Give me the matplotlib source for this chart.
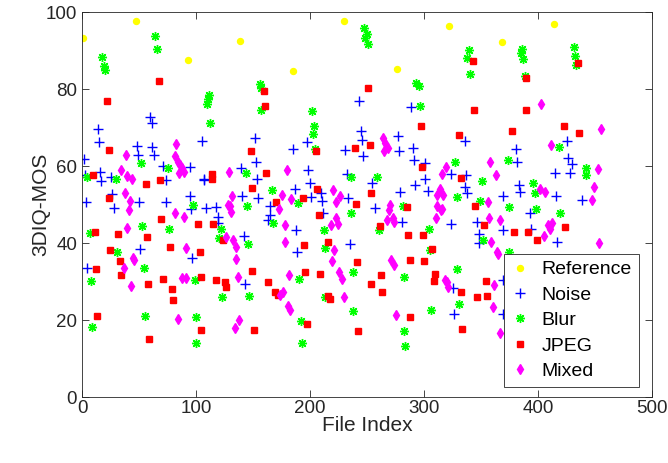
import numpy as np
import matplotlib.pyplot as plt

plt.rcParams['font.family'] = ['Liberation Sans', 'DejaVu Sans']

# reference images: one every 46 files
ref_x = [1, 47, 93, 139, 185, 230, 276, 322, 368, 414]
ref_y = [93.2, 97.8, 87.5, 92.4, 84.6, 97.7, 85.3, 96.4, 92.2, 96.8]

noise = [
    (59.3, 72.7), (61.1, 71.2), (14.1, 69.7), (14.7, 66.2), (48.5, 65.2), (61.7, 65.0),
    (49.3, 62.8), (63.1, 62.9), (1.5, 61.8), (71.4, 60.1), (16.2, 58.6), (2.9, 57.6),
    (25.3, 57.2), (17.0, 56.2), (73.4, 56.3), (26.4, 52.7), (3.2, 50.6), (49.9, 50.8),
    (73.4, 50.6), (28.2, 49.1), (51.1, 38.4), (4.7, 33.6),
    (105.4, 66.4), (151.8, 67.3), (94.3, 59.9), (139.5, 59.5), (152.4, 61.0), (106.6, 56.6),
    (107.2, 56.4), (153.3, 56.6), (94.7, 52.3), (140.7, 52.3), (154.8, 51.8),
    (95.8, 48.8), (109.0, 49.1), (117.8, 49.3), (164.5, 49.7), (165.1, 47.4), (163.4, 46.1),
    (119.6, 46.9), (119.2, 45.2), (142.1, 41.8), (96.7, 36.1), (142.7, 29.4),
    (243.2, 77.0), (244.7, 69.2), (245.5, 66.8), (197.4, 66.2), (185.3, 64.4), (231.1, 64.2),
    (246.1, 62.5), (198.5, 59.0), (232.6, 58.0), (254.6, 55.6), (199.7, 55.6), (186.8, 54.0),
    (200.6, 52.0), (209.7, 53.0), (210.8, 51.0), (233.5, 51.8),
    (211.5, 47.9), (187.7, 43.3), (235.0, 39.7), (188.3, 37.8),
    (288.7, 75.3), (335.7, 66.6), (277.5, 67.7), (278.4, 63.8), (290.1, 64.7), (291.0, 61.6),
    (301.3, 60.8), (323.3, 57.9), (337.2, 57.6), (301.3, 56.7), (292.5, 55.1), (303.4, 53.6),
    (278.7, 53.4), (336.0, 54.7), (338.1, 53.0),
    (257.3, 49.1), (280.8, 45.4), (324.0, 45.0), (325.7, 28.3), (326.3, 21.6),
    (380.9, 64.4), (381.8, 61.0), (425.5, 66.5), (414.7, 58.2), (426.5, 62.1), (383.0, 55.1),
    (383.9, 53.2), (369.2, 52.3), (416.1, 52.3),
    (393.0, 47.8), (346.5, 45.6), (369.2, 43.3), (394.1, 43.6), (348.0, 42.3), (348.6, 40.0),
    (417.0, 40.2), (369.2, 30.5), (369.2, 21.6),
    (430.0, 60.5), (428.5, 58.3), (438.6, 51.1),
]

blur = [
    (64.0, 93.7), (65.8, 90.4), (17.9, 88.2), (20.0, 85.0), (19.5, 86.0), (51.7, 60.9),
    (75.2, 59.5), (4.7, 57.3), (29.4, 56.7),
    (52.3, 44.5), (76.7, 43.7), (6.8, 42.6), (31.1, 37.7), (54.0, 33.6), (8.2, 30.2),
    (54.9, 21.2), (9.1, 18.3),
    (156.3, 81.2), (157.4, 80.2), (111.3, 78.5), (110.4, 77.4), (109.8, 76.1), (157.4, 74.6),
    (112.5, 71.3), (144.2, 58.2), (166.5, 53.8),
    (97.2, 49.8), (144.5, 49.7), (167.9, 45.2), (121.9, 43.7), (120.2, 41.3), (145.4, 39.8),
    (98.9, 30.5), (122.7, 26.1), (146.9, 26.4), (99.8, 20.9), (100.4, 14.2),
    (247.6, 95.8), (249.6, 94.3), (248.2, 93.2), (250.5, 91.7), (201.5, 74.2), (203.5, 70.5),
    (202.6, 68.4), (204.7, 64.4), (235.9, 57.3), (189.4, 50.4),
    (236.1, 47.8), (212.3, 43.3), (212.9, 38.7), (237.6, 32.4), (190.3, 30.6), (213.5, 26.1),
    (237.9, 22.5), (191.8, 19.8), (193.0, 14.0),
    (339.5, 90.2), (338.1, 88.1), (340.0, 83.9), (293.4, 81.7), (295.4, 80.7), (296.3, 75.6),
    (326.9, 61.0), (258.8, 57.3), (328.6, 52.1),
    (281.3, 49.7), (260.2, 43.5), (304.2, 43.7), (305.1, 38.1), (328.6, 33.2), (282.2, 31.1),
    (330.4, 24.2), (306.3, 22.7), (282.8, 17.2), (283.7, 13.3),
    (385.9, 90.5), (384.7, 89.4), (387.1, 87.9), (388.3, 83.3), (418.8, 64.9), (373.6, 61.6),
    (350.9, 56.2), (395.9, 55.6), (397.1, 53.0), (349.5, 51.0),
    (374.2, 49.4), (398.5, 48.8), (419.6, 47.8), (351.5, 40.9), (374.4, 37.8),
    (431.5, 90.8), (432.3, 88.5), (433.5, 86.3), (441.7, 59.5), (442.3, 57.7),
]

jpeg = [
    (67.5, 82.0), (22.0, 77.0), (23.8, 64.1), (9.4, 57.6), (68.4, 56.3), (56.1, 55.4),
    (23.8, 51.8),
    (69.6, 46.4), (11.2, 43.0), (31.7, 42.4), (57.3, 41.7), (77.5, 38.9), (24.4, 38.1),
    (33.5, 35.5), (12.3, 33.4), (34.4, 31.8), (71.4, 30.7), (58.1, 29.5), (79.3, 28.2),
    (80.2, 25.3), (13.2, 21.1), (59.0, 15.2),
    (159.5, 79.4), (160.4, 75.7), (148.0, 63.8), (161.8, 58.3), (114.3, 57.9), (114.3, 56.6),
    (148.9, 54.4),
    (101.9, 45.0), (115.2, 45.0), (124.0, 40.7), (103.1, 37.6), (149.5, 32.9), (104.0, 31.1),
    (117.2, 30.5), (125.1, 30.0), (126.0, 28.5), (163.0, 29.8), (169.4, 27.4), (104.8, 17.5),
    (150.7, 17.5),
    (251.1, 80.2), (252.6, 65.4), (239.6, 64.8), (205.3, 63.8), (205.9, 54.1), (193.8, 51.6),
    (253.1, 52.9), (169.8, 50.8), (240.3, 50.2),
    (207.9, 47.2), (194.7, 39.4), (215.9, 40.4), (241.4, 35.0), (195.6, 32.6), (208.8, 32.1),
    (253.5, 29.5), (171.7, 26.6), (215.9, 26.3), (217.9, 25.6), (197.1, 18.9), (242.3, 17.3),
    (297.5, 70.3), (331.0, 68.2), (298.4, 59.9), (332.2, 56.9),
    (285.2, 49.5), (261.7, 44.5), (286.3, 42.0), (299.3, 42.0), (306.6, 38.5), (288.1, 35.7),
    (300.4, 35.4), (309.3, 32.0), (262.6, 31.8), (308.4, 30.2), (263.4, 27.4), (332.8, 27.2),
    (288.1, 20.9), (333.6, 17.8),
    (343.3, 87.2), (389.4, 83.0), (344.2, 74.6), (389.4, 74.6), (422.6, 70.5), (376.8, 69.2),
    (345.1, 49.7), (353.0, 44.8), (423.5, 44.3), (378.9, 42.8), (391.2, 43.0), (399.1, 40.7),
    (354.5, 30.3), (346.3, 25.9), (355.1, 26.4),
    (435.0, 86.9), (435.9, 68.7),
]

mixed = [
    (82.2, 65.7), (38.5, 62.9), (81.3, 62.5), (84.0, 61.2), (34.6, 59.0), (39.2, 57.4),
    (44.1, 56.7), (38.1, 53.0), (42.0, 51.0),
    (41.1, 48.5), (81.7, 47.8), (39.6, 44.0), (44.9, 36.1), (45.5, 35.6), (37.0, 33.6),
    (43.2, 28.9), (84.0, 20.3),
    (86.3, 60.3), (87.8, 59.5), (85.5, 58.2), (89.3, 58.6), (128.9, 58.4), (131.9, 52.3),
    (128.0, 50.0), (129.8, 49.7), (130.7, 48.2), (89.3, 46.9), (126.6, 41.7), (132.4, 40.8),
    (134.8, 38.9), (91.4, 38.7), (135.4, 36.0), (87.8, 30.9), (91.6, 30.9), (136.8, 31.1),
    (137.4, 20.1), (133.9, 18.1),
    (179.7, 59.0), (220.3, 53.8), (175.6, 52.4), (183.3, 51.4), (226.2, 52.2), (223.2, 50.8),
    (172.7, 48.8), (177.7, 44.8), (222.6, 46.5), (218.5, 44.6), (224.7, 45.0), (178.2, 40.2),
    (221.1, 38.3), (219.7, 35.5), (225.6, 32.6), (181.8, 31.8), (227.9, 30.6), (173.3, 26.6),
    (176.2, 27.2), (229.7, 25.9), (180.6, 23.7), (182.6, 22.7),
    (264.1, 67.3), (266.1, 66.0), (268.1, 64.8), (265.2, 63.8), (318.9, 59.9), (315.4, 57.9),
    (313.9, 54.1), (311.0, 52.5), (316.9, 52.4),
    (270.5, 49.9), (269.0, 48.6), (311.6, 49.7), (314.5, 48.5), (316.0, 48.9), (267.6, 45.9),
    (272.9, 46.5), (273.4, 45.4), (310.7, 46.5), (271.1, 35.7), (274.0, 34.4), (318.1, 30.5),
    (320.4, 30.0), (321.3, 28.6), (275.5, 21.4),
    (402.4, 76.2), (411.7, 65.5), (358.3, 61.0), (363.3, 57.6), (401.5, 54.1), (406.4, 53.4),
    (356.0, 50.6),
    (356.8, 46.5), (366.8, 46.1), (408.8, 44.8), (412.3, 45.2), (410.8, 43.6), (405.0, 41.9),
    (358.9, 40.4), (364.1, 37.8), (364.8, 37.3), (361.8, 29.2), (360.4, 23.4), (366.3, 16.8),
    (454.9, 69.6), (452.6, 59.3), (449.1, 54.7), (447.6, 51.1), (453.5, 40.0),
]

fig = plt.figure(figsize=(6.68, 4.63), dpi=100)
ax = fig.add_axes([0.1228, 0.142, 0.8532, 0.832])

ax.plot(ref_x, ref_y, 'o', color='yellow', markerfacecolor='yellow', markersize=4.3,
        label='Reference')
nx, ny = zip(*noise)
ax.plot(nx, ny, '+', color='blue', markersize=6.5, markeredgewidth=1.0, label='Noise')
bx, by = zip(*blur)
ax.plot(bx, by, linestyle='none', marker=(8, 2, 0), color='lime', markersize=6.5,
        markeredgewidth=1.0, label='Blur')
jx, jy = zip(*jpeg)
ax.plot(jx, jy, 's', color='red', markerfacecolor='red', markersize=4.3, label='JPEG')
mx, my = zip(*mixed)
ax.plot(mx, my, 'd', color='magenta', markerfacecolor='magenta', markersize=5.5,
        label='Mixed')

ax.set_xlim(0, 500)
ax.set_ylim(0, 100)
ax.set_xticks(np.arange(0, 501, 100))
ax.set_yticks(np.arange(0, 101, 20))
ax.tick_params(direction='in', length=5, width=0.6, labelsize=13.5, colors='#262626',
               top=True, right=True)
ax.tick_params(axis='x', pad=2)
for s in ax.spines.values():
    s.set_color('#262626')
    s.set_linewidth(0.6)
ax.set_xlabel('File Index', fontsize=15, color='#262626', labelpad=-1)
ax.set_ylabel('3DIQ-MOS', fontsize=15, color='#262626', labelpad=-3)

leg = ax.legend(loc='lower right', bbox_to_anchor=(0.977, 0.027), borderaxespad=0,
                fontsize=14, fancybox=False, framealpha=1, edgecolor='#262626',
                borderpad=0.35, labelspacing=0.4, handlelength=1.0, handletextpad=0.6)
leg.get_frame().set_linewidth(0.6)

fig.savefig('out.png', dpi=100)
